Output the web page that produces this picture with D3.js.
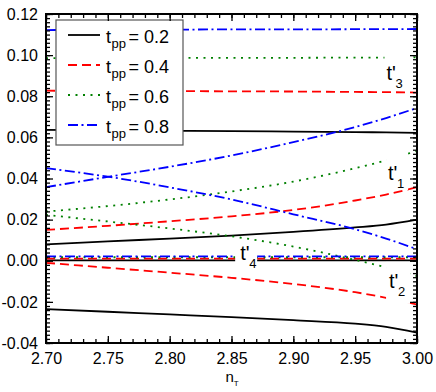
<!DOCTYPE html>
<html>
<head>
<meta charset="utf-8">
<script src="https://cdn.jsdelivr.net/npm/d3@7"></script>
<style>
  body { margin: 0; background: #fff; }
  svg { font-family: "Liberation Sans", Arial, sans-serif; }
</style>
</head>
<body>
<div id="chart"></div>
<script>
// x values (n_T)
var nT = [2.70, 2.75, 2.80, 2.85, 2.90, 2.95, 2.975, 3.00];

// t_pp = 0.2
var tpp02_t1 = [0.0080, 0.0094, 0.0108, 0.0122, 0.0140, 0.0162, 0.0176, 0.0200];
var tpp02_t2 = [-0.0235, -0.0248, -0.0261, -0.0274, -0.0289, -0.0306, -0.0322, -0.0350];
var tpp02_t3 = [0.0636, 0.0634, 0.0632, 0.0630, 0.0628, 0.0626, 0.0624, 0.0622];
var tpp02_t4 = [0.0002, 0.0002, 0.0002, 0.0002, 0.0002, 0.0002, 0.0002, 0.0002];
// t_pp = 0.4
var tpp04_t1 = [0.0150, 0.0170, 0.0192, 0.0216, 0.0247, 0.0293, 0.0322, 0.0358];
var tpp04_t2 = [-0.0010, -0.0034, -0.0058, -0.0083, -0.0113, -0.0153, -0.0180, -0.0213];
var tpp04_t3 = [0.0827, 0.0826, 0.0825, 0.0824, 0.0823, 0.0821, 0.0820, 0.0818];
var tpp04_t4 = [0.0010, 0.0010, 0.0010, 0.0010, 0.0010, 0.0010, 0.0010, 0.0010];
// t_pp = 0.6
var tpp06_t1 = [0.0239, 0.0266, 0.0298, 0.0337, 0.0385, 0.0450, 0.0488, 0.0535];
var tpp06_t2 = [0.0223, 0.0191, 0.0157, 0.0119, 0.0069, 0.0004, -0.0032, -0.0075];
var tpp06_t3 = [0.0985, 0.0986, 0.0986, 0.0987, 0.0987, 0.0988, 0.0988, 0.0989];
var tpp06_t4 = [0.0017, 0.0017, 0.0017, 0.0017, 0.0017, 0.0017, 0.0017, 0.0017];
// t_pp = 0.8
var tpp08_t1 = [0.0358, 0.0408, 0.0457, 0.0512, 0.0577, 0.0650, 0.0694, 0.0743];
var tpp08_t2 = [0.0450, 0.0409, 0.0357, 0.0298, 0.0226, 0.0153, 0.0108, 0.0056];
var tpp08_t3 = [0.1122, 0.1123, 0.1124, 0.1125, 0.1125, 0.1126, 0.1126, 0.1127];
var tpp08_t4 = [0.0021, 0.0021, 0.0021, 0.0021, 0.0021, 0.0021, 0.0021, 0.0021];

var tppValues = ["0.2", "0.4", "0.6", "0.8"];
var xTicks = [2.70, 2.75, 2.80, 2.85, 2.90, 2.95, 3.00];
var yTicks = [-0.04, -0.02, 0.00, 0.02, 0.04, 0.06, 0.08, 0.10, 0.12];

// curve labels t'1..t'4, anchor = left/baseline of the "t'"
var labelNames = ["3", "1", "2", "4"];
var labelN = [2.9753, 2.9766, 2.9774, 2.8570];
var labelV = [0.0879, 0.0393, -0.0132, 0.0004];

var Colors = ["#000000", "#ff0000", "#008000", "#0000ff"];
var Dashes = ["none", "9,5", "2,5.5", "10,3.5,2,3.5"];

var seriesSets = [
  [tpp02_t1, tpp02_t2, tpp02_t3, tpp02_t4],
  [tpp04_t1, tpp04_t2, tpp04_t3, tpp04_t4],
  [tpp06_t1, tpp06_t2, tpp06_t3, tpp06_t4],
  [tpp08_t1, tpp08_t2, tpp08_t3, tpp08_t4]
];

var margin = {top: 14, right: 19, bottom: 49, left: 46},
    width = 436 - margin.left - margin.right,
    height = 392 - margin.top - margin.bottom;

var svg = d3.select("#chart").append("svg")
    .attr("width", 436)
    .attr("height", 392)
  .append("g")
    .attr("transform", "translate(" + margin.left + "," + margin.top + ")");

var x = d3.scaleLinear().domain([2.70, 3.00]).range([0, width]);
var y = d3.scaleLinear().domain([-0.04, 0.12]).range([height, 0]);

var line = d3.line()
    .x(function(d) { return x(d[0]); })
    .y(function(d) { return y(d[1]); })
    .curve(d3.curveMonotoneX);

// curves
seriesSets.forEach(function(set, i) {
  set.forEach(function(vals) {
    svg.append("path")
      .datum(nT.map(function(n, k) { return [n, vals[k]]; }))
      .attr("fill", "none")
      .attr("stroke", Colors[i])
      .attr("stroke-width", 1.8)
      .attr("stroke-dasharray", Dashes[i])
      .attr("d", line);
  });
});

// curve labels with white boxes (box offsets from anchor: dx, dy, w, h)
var labelBoxes = [[-2, -26, 24, 37], [-2, -26, 22, 36], [-3, -26, 24, 42], [-5, -17, 22, 31]];
labelNames.forEach(function(nm, i) {
  var lx = x(labelN[i]), ly = y(labelV[i]);
  var b = labelBoxes[i];
  svg.append("rect")
    .attr("x", lx + b[0]).attr("y", ly + b[1])
    .attr("width", b[2]).attr("height", b[3])
    .attr("fill", "white");
  var t = svg.append("text")
    .attr("x", lx).attr("y", ly)
    .attr("font-size", 20)
    .attr("fill", "black");
  t.append("tspan").text("t'");
  t.append("tspan")
    .attr("x", lx + 9).attr("dy", 8)
    .attr("font-size", 13)
    .text(nm);
});

// legend
var legend = svg.append("g").attr("transform", "translate(10,6)");
legend.append("rect")
  .attr("width", 127).attr("height", 125)
  .attr("fill", "white")
  .attr("stroke", "#555")
  .attr("stroke-width", 1.2);
tppValues.forEach(function(v, i) {
  var ry = 15 + i * 30;
  legend.append("line")
    .attr("x1", 12).attr("x2", 44)
    .attr("y1", ry).attr("y2", ry)
    .attr("stroke", Colors[i])
    .attr("stroke-width", 1.8)
    .attr("stroke-dasharray", Dashes[i]);
  var tx = legend.append("text").attr("y", ry + 7.7).attr("font-size", 18);
  tx.append("tspan").attr("x", 50).text("t");
  tx.append("tspan").attr("x", 55.5).attr("dy", 5.5).attr("font-size", 13).text("pp");
  tx.append("tspan").attr("x", 72.5).attr("dy", -5.5).text("= " + v);
});

// axes: ticks inward on all sides
var xMinor = d3.range(270, 301, 1).map(function(d) { return d / 100; });
var yMinor = d3.range(-20, 61, 1).map(function(d) { return d / 500; });

svg.append("g")
    .attr("transform", "translate(0," + height + ")")
    .call(d3.axisBottom(x).tickValues(xTicks).tickSize(-7).tickPadding(9.5)
      .tickFormat(function(d) { return d.toFixed(2); }));
svg.append("g")
    .attr("transform", "translate(0," + height + ")")
    .call(d3.axisBottom(x).tickValues(xMinor).tickSize(-4).tickFormat(""));
svg.append("g")
    .call(d3.axisTop(x).tickValues(xTicks).tickSize(-7).tickFormat(""));
svg.append("g")
    .call(d3.axisTop(x).tickValues(xMinor).tickSize(-4).tickFormat(""));

svg.append("g")
    .call(d3.axisLeft(y).tickValues(yTicks).tickSize(-7).tickPadding(8)
      .tickFormat(function(d) { return d.toFixed(2); }));
svg.append("g")
    .call(d3.axisLeft(y).tickValues(yMinor).tickSize(-4).tickFormat(""));
svg.append("g")
    .attr("transform", "translate(" + width + ",0)")
    .call(d3.axisRight(y).tickValues(yTicks).tickSize(-7).tickFormat(""));
svg.append("g")
    .attr("transform", "translate(" + width + ",0)")
    .call(d3.axisRight(y).tickValues(yMinor).tickSize(-4).tickFormat(""));

svg.selectAll(".domain").remove();
svg.selectAll(".tick line").attr("stroke", "black").attr("stroke-width", 1.3);
svg.selectAll(".tick text").attr("font-size", 16).attr("fill", "black")
    .attr("font-family", "Liberation Sans, Arial, sans-serif");

// frame
svg.append("rect")
  .attr("width", width).attr("height", height)
  .attr("fill", "none")
  .attr("stroke", "black")
  .attr("stroke-width", 2);

// x axis title
var xt = svg.append("text")
  .attr("x", width / 2 - 6).attr("y", height + 39)
  .attr("font-size", 15);
xt.append("tspan").text("n");
xt.append("tspan").attr("dy", 4).attr("font-size", 8).text("T");
</script>
</body>
</html>
